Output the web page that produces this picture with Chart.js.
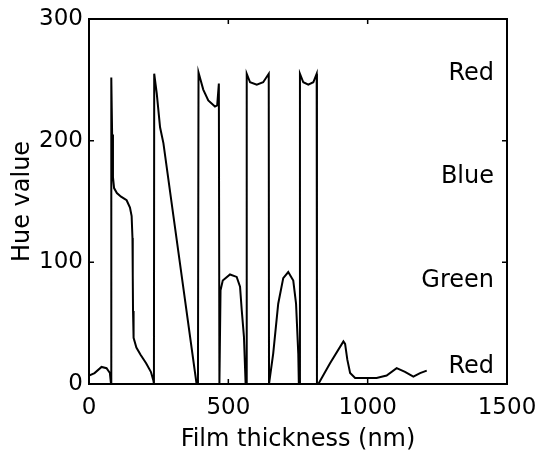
<!DOCTYPE html>
<html>
<head>
<meta charset="utf-8">
<script src="https://cdn.jsdelivr.net/npm/chart.js@4/dist/chart.umd.min.js"></script>
<style>
  body { margin: 0; background: #fff; }
  #hueChart { display: block; }
</style>
</head>
<body>
<canvas id="hueChart" width="538" height="458"></canvas>
<script>
// Film thickness (nm)
var thickness = [0, 20, 45, 63, 75, 79, 80, 83, 86, 90, 100, 115, 135, 147, 153, 156, 157, 158, 160, 170, 185, 205, 222, 231, 233,
  234, 243, 255, 267, 303, 344, 386, 391, 393, 410, 428, 452, 460, 466, 468, 470, 472, 480, 506, 530, 542, 548, 556, 562,
  565, 566, 578, 602, 625, 645, 646, 648, 661, 679, 697, 715, 733, 743, 751, 753, 756, 757, 769, 787, 805, 817, 818,
  823, 865, 913, 919, 927, 937, 955, 990, 1032, 1068, 1104, 1134, 1164, 1188, 1212];
// Hue value at each thickness
var hue = [7, 9, 14, 13, 9, 0, 252, 205, 170, 161, 157, 154, 151, 145, 138, 120, 90, 60, 38, 30, 24, 17, 10, 3, 0,
  255, 239, 211, 198, 138, 70, 0, 0, 256, 242, 233, 228, 229, 247, 0, 0, 77, 85, 90, 88, 80, 61, 39, 0,
  0, 255, 248, 246, 248, 255, 0, 0, 25, 66, 87, 92, 85, 66, 25, 0, 0, 255, 248, 246, 248, 255, 0,
  0, 17, 35, 33, 20, 9, 5, 5, 5, 7, 13, 10, 6, 9, 11];

// colour names written on the right side
var bandNames = ['Red', 'Blue', 'Green', 'Red'];
var bandHues = [255, 170, 85, 14];

var xTicks = [0, 500, 1000, 1500];
var yTicks = [0, 100, 200, 300];

var points = [];
for (var i = 0; i < thickness.length; i++) {
  points.push({ x: thickness[i], y: hue[i] });
}

var fontName = '"DejaVu Sans", "Liberation Sans", sans-serif';

// box round the plot, inward ticks and the colour names
var framePlugin = {
  id: 'frame',
  afterDatasetsDraw: function(chart) {
    var ctx = chart.ctx;
    var a = chart.chartArea;
    var xs = chart.scales.x, ys = chart.scales.y;
    ctx.save();
    ctx.strokeStyle = '#000';
    ctx.lineWidth = 2;
    ctx.strokeRect(a.left, a.top, a.right - a.left, a.bottom - a.top);
    ctx.lineWidth = 1.5;
    ctx.beginPath();
    xTicks.forEach(function(v) {
      var px = xs.getPixelForValue(v);
      ctx.moveTo(px, a.bottom); ctx.lineTo(px, a.bottom - 5);
      ctx.moveTo(px, a.top); ctx.lineTo(px, a.top + 5);
    });
    yTicks.forEach(function(v) {
      var py = ys.getPixelForValue(v);
      ctx.moveTo(a.left, py); ctx.lineTo(a.left + 5, py);
      ctx.moveTo(a.right, py); ctx.lineTo(a.right - 5, py);
    });
    ctx.stroke();

    ctx.fillStyle = '#000';
    ctx.font = '24px ' + fontName;
    ctx.textAlign = 'right';
    ctx.textBaseline = 'middle';
    for (var k = 0; k < bandNames.length; k++) {
      ctx.fillText(bandNames[k], a.right - 13, ys.getPixelForValue(bandHues[k]));
    }
    ctx.restore();
  }
};

// plain numbers, no thousands comma
function plainTick(value) { return String(value); }

var ctx = document.getElementById('hueChart').getContext('2d');
var hueChart = new Chart(ctx, {
  type: 'line',
  data: {
    datasets: [{
      data: points,
      borderColor: '#000',
      borderWidth: 2,
      pointRadius: 0,
      tension: 0,
      fill: false
    }]
  },
  options: {
    responsive: false,
    animation: false,
    layout: { padding: { top: 19, right: 31, left: 0, bottom: 0 } },
    plugins: {
      legend: { display: false },
      tooltip: { enabled: false }
    },
    scales: {
      x: {
        type: 'linear',
        min: 0,
        max: 1500,
        afterFit: function(scale) {
          scale.height = 74;
          scale.paddingLeft = 0;
          scale.paddingRight = 0;
        },
        grid: { display: false, drawTicks: false },
        border: { display: false },
        ticks: {
          stepSize: 500,
          padding: 10,
          color: '#000',
          callback: plainTick,
          font: { family: fontName, size: 23 }
        },
        title: {
          display: true,
          text: 'Film thickness (nm)',
          color: '#000',
          padding: { top: 8, bottom: 4 },
          font: { family: fontName, size: 24 }
        }
      },
      y: {
        min: 0,
        max: 300,
        afterFit: function(scale) {
          scale.width = 89;
          scale.paddingTop = 0;
          scale.paddingBottom = 0;
        },
        grid: { display: false, drawTicks: false },
        border: { display: false },
        ticks: {
          stepSize: 100,
          padding: 6,
          color: '#000',
          callback: plainTick,
          font: { family: fontName, size: 23 }
        },
        title: {
          display: true,
          text: 'Hue value',
          color: '#000',
          padding: { top: 8, bottom: 4 },
          font: { family: fontName, size: 24 }
        }
      }
    }
  },
  plugins: [framePlugin]
});
</script>
</body>
</html>
